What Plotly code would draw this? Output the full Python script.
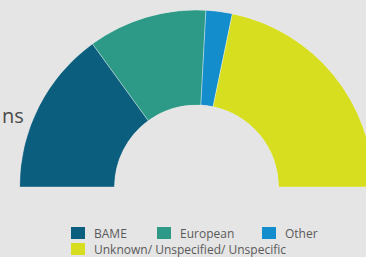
import plotly.graph_objects as go

# ---- data ----
categories = ["BAME", "European", "Other", "Unknown/ Unspecified/ Unspecific"]
values = [30.0, 21.7, 4.8, 43.5]
colors = ["#0b5e7e", "#2c9a86", "#138dcb", "#d6de1f"]

BG = "#e5e5e5"
FIG_W, FIG_H = 374, 257

total = sum(values)
span = [v / total * 180.0 for v in values]
theta = []
acc = 0.0
for s in span:
    theta.append(acc + s / 2.0)
    acc += s

fig = go.Figure()
fig.add_trace(go.Barpolar(
    r=[1] * len(values),
    theta=theta,
    width=span,
    marker=dict(color=colors, line=dict(color="rgba(255,255,255,0.45)", width=0.8)),
    showlegend=False,
    hoverinfo="skip",
))

# centre (196.5, 187) px, outer radius 177 px, inner 82 px
cx, cy, R, Rin = 196.5, 187.0, 177.0, 82.0
fig.update_layout(
    width=FIG_W, height=FIG_H,
    margin=dict(l=0, r=0, t=0, b=0),
    paper_bgcolor=BG, plot_bgcolor=BG,
    polar=dict(
        domain=dict(x=[(cx - R) / FIG_W, (cx + R) / FIG_W],
                    y=[(FIG_H - cy) / FIG_H, (FIG_H - cy + R) / FIG_H]),
        sector=[0, 180],
        hole=Rin / R,
        bgcolor=BG,
        radialaxis=dict(range=[0, 1], visible=False, showgrid=False),
        angularaxis=dict(rotation=180, direction="clockwise", visible=False,
                         showgrid=False, showline=False, ticks=""),
    ),
)

# ---- manual legend ----
legend_items = [
    (0, 71, 94, 233),
    (1, 157, 180, 233),
    (2, 262, 285, 233),
    (3, 71, 94, 249),
]
for idx, sx, tx, yc in legend_items:
    fig.add_shape(type="rect", xref="paper", yref="paper",
                  x0=sx / FIG_W, x1=(sx + 14) / FIG_W,
                  y0=1 - (yc + 6) / FIG_H, y1=1 - (yc - 6) / FIG_H,
                  fillcolor=colors[idx], line=dict(width=0))
    fig.add_annotation(text=categories[idx], xref="paper", yref="paper",
                       x=(tx - 2) / FIG_W, y=1 - yc / FIG_H,
                       xanchor="left", yanchor="middle", showarrow=False,
                       font=dict(family="Open Sans", size=12, color="#5a5a5a"))

# text fragment at left edge
fig.add_annotation(text="ns", xref="paper", yref="paper",
                   x=0, y=1 - 116 / FIG_H, xanchor="left", yanchor="middle",
                   showarrow=False, font=dict(family="Open Sans", size=20, color="#4a4a4a"))

fig.write_html(
    "out.html",
    config={"displayModeBar": False},
    post_script=("document.body.style.margin='0';"
                 "document.body.style.overflow='hidden';"
                 "document.documentElement.style.overflow='hidden';"),
)
